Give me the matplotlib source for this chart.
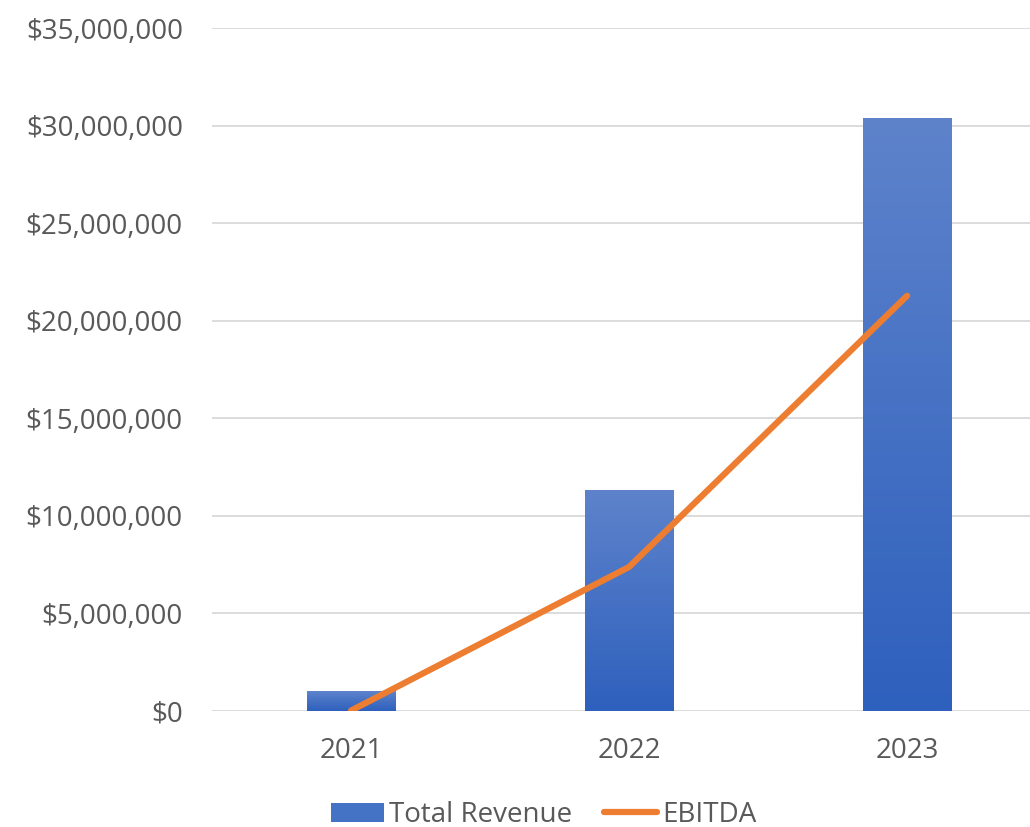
import matplotlib
matplotlib.use("Agg")
import matplotlib.pyplot as plt
import numpy as np
from matplotlib.ticker import FuncFormatter
from matplotlib.lines import Line2D
from matplotlib.patches import Patch
from matplotlib.colors import LinearSegmentedColormap

years = ["2021", "2022", "2023"]
total_revenue = [1_020_000, 11_330_000, 30_400_000]
ebitda = [20_000, 7_380_000, 21_280_000]

plt.rcParams['font.family'] = ['Open Sans', 'DejaVu Sans']
fig = plt.figure(figsize=(10.30, 8.27), dpi=100)
ax = fig.add_axes([0.2058, 0.1403, 0.7942, 0.8258])

x = np.arange(len(years))
bars = ax.bar(x, total_revenue, width=0.317, color='#4472C4', zorder=2)
grad = np.linspace(0, 1, 256).reshape(-1, 1)
cmap = LinearSegmentedColormap.from_list('g', ['#2E60BD', '#5E83CB'])
for b in bars:
    x0, y0 = b.get_x(), b.get_y()
    w, h = b.get_width(), b.get_height()
    im = ax.imshow(grad, extent=[x0, x0 + w, y0, y0 + h], origin='lower',
                   cmap=cmap, aspect='auto', zorder=2.1)
    im.set_clip_path(b)

ax.plot(x, ebitda, color='#ED7D31', lw=4.5, solid_capstyle='round',
        solid_joinstyle='round', zorder=3)

ax.set_xlim(-0.5, 2.442)
ax.set_ylim(0, 35_000_000)
ax.set_yticks(np.arange(0, 35_000_001, 5_000_000))
ax.yaxis.set_major_formatter(FuncFormatter(lambda v, p: f"${v:,.0f}"))
ax.set_xticks(x)
ax.set_xticklabels(years)
ax.grid(axis='y', color='#D9D9D9', lw=1.3, zorder=0)
ax.set_axisbelow(True)
for s in ax.spines.values():
    s.set_visible(False)
ax.tick_params(axis='both', length=0, colors='#595959', labelsize=20)
ax.tick_params(axis='y', pad=21)
ax.tick_params(axis='x', pad=19)

handles = [Patch(facecolor='#4472C4', edgecolor='none'),
           Line2D([0], [0], color='#ED7D31', lw=4.5, solid_capstyle='round')]
leg = fig.legend(handles, ['Total Revenue', 'EBITDA'], loc='center',
                 bbox_to_anchor=(0.528, 0.0145), ncol=2, frameon=False,
                 fontsize=20, labelcolor='#595959', handlelength=1.9,
                 handletextpad=0.2, columnspacing=1.15, handleheight=0.65)

fig.savefig('out.png', dpi=100)
